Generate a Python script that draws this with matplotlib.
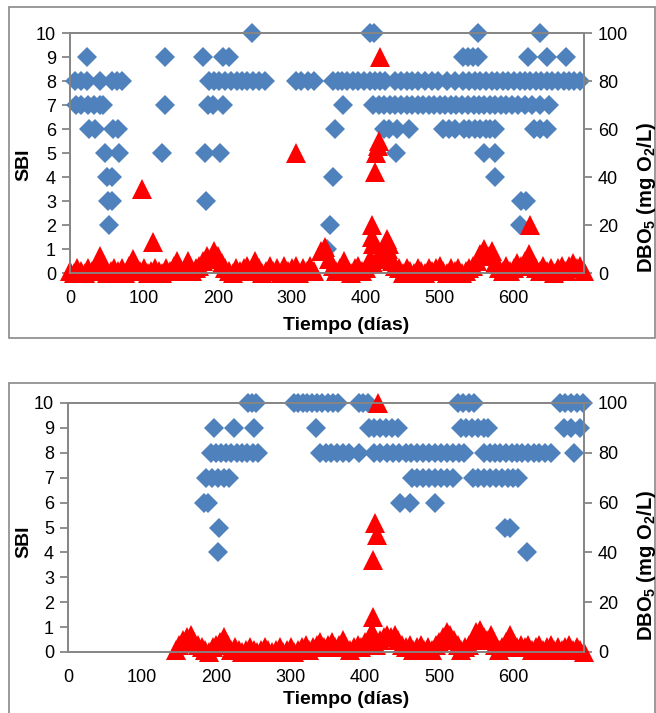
import matplotlib
matplotlib.use("Agg")
import matplotlib.pyplot as plt
from matplotlib.patches import Rectangle

plt.rcParams['font.family'] = ['Liberation Sans', 'DejaVu Sans']
plt.rcParams['mathtext.fontset'] = 'custom'
plt.rcParams['mathtext.rm'] = 'Liberation Sans'
plt.rcParams['mathtext.bf'] = 'Liberation Sans:bold'

BLUE = '#4f81bd'
RED = '#ff0000'
GRAY = '#868686'

# ---- upper chart: SBI (days per SBI value) ----
top_sbi10 = [246, 405, 411, 551, 635]
top_sbi9 = [23, 128, 180, 207, 215, 531, 538, 545, 551, 619, 645, 671]
top_sbi8 = [7, 15, 23, 40, 57, 63, 70, 188, 195, 202, 210, 218, 226, 233, 240, 248, 256, 263,
            306, 313, 322, 330, 355, 362, 368, 375, 382, 390, 397, 405, 412, 419, 426, 440,
            448, 455, 462, 470, 480, 490, 497, 510, 520, 532, 540, 548, 555, 562, 570, 577,
            585, 592, 600, 608, 615, 622, 630, 637, 645, 652, 660, 668, 675, 682, 690]
top_sbi7 = [8, 15, 24, 32, 40, 45, 129, 187, 194, 207, 369, 410, 418, 425, 433, 440, 447, 455,
            462, 470, 477, 485, 492, 500, 507, 515, 522, 530, 538, 546, 553, 560, 568, 575,
            583, 590, 598, 606, 615, 625, 635, 648]
top_sbi6 = [26, 34, 58, 65, 358, 425, 432, 442, 458, 505, 512, 520, 533, 540, 547, 555, 562,
            568, 575, 627, 635, 645]
top_sbi5 = [48, 66, 124, 182, 203, 441, 560, 574]
top_sbi4 = [50, 57, 355, 574]
top_sbi3 = [51, 57, 184, 610, 616]
top_sbi2 = [53, 351, 608]
top_sbi1 = [347]

# ---- upper chart: DBO5 ----
top_dbo_days = [0, 5, 10, 15, 20, 25, 30, 35, 40, 45, 50, 55, 60, 65, 70, 75, 80, 85, 90, 95,
                100, 105, 110, 115, 120, 125, 130, 135, 140, 145, 150, 155, 160, 165, 170, 175,
                180, 185, 190, 195, 200, 205, 210, 215, 220, 225, 230, 235, 240, 245, 250, 255,
                260, 265, 270, 275, 280, 285, 290, 295, 300, 305, 310, 315, 320, 325, 330,
                340, 345, 350, 355, 360, 365, 370, 375, 380, 385, 390, 395, 400, 405, 410, 415,
                420, 425, 430, 435, 440, 445, 450, 455, 460, 465, 470, 475, 480, 485, 490, 495,
                500, 505, 510, 515, 520, 525, 530, 535, 540, 545, 550, 555, 560, 565, 570, 575,
                580, 585, 590, 595, 600, 605, 610, 615, 620, 625, 630, 635, 640, 645, 650, 655,
                660, 665, 670, 675, 680, 685, 690, 695,
                97, 112, 306, 408, 408, 410, 412, 414, 416, 418, 419, 428, 432, 622]
top_dbo = [1, 0, 2, 1, 0, 2, 1, 3, 7, 2, 0, 1, 2, 1, 2, 0, 3, 6, 2, 1,
           2, 0, 1, 2, 1, 0, 2, 1, 3, 5, 1, 2, 5, 1, 2, 3,
           5, 7, 6, 9, 7, 4, 2, 1, 0, 2, 1, 2, 3, 1, 5, 2,
           0, 1, 3, 1, 2, 0, 3, 1, 2, 3, 0, 2, 1, 3, 1,
           9, 11, 6, 3, 1, 2, 5, 1, 0, 2, 3, 1, 2, 6, 4, 6,
           7, 9, 10, 5, 3, 2, 0, 2, 1, 0, 2, 1, 0, 2, 1, 2,
           3, 1, 0, 2, 1, 2, 0, 1, 2, 3, 5, 8, 10, 7, 9, 4,
           2, 1, 3, 1, 2, 4, 3, 5, 8, 4, 2, 1, 3, 1, 2, 0,
           2, 3, 1, 3, 4, 2, 3, 1,
           35, 13, 50, 20, 15, 12, 42, 50, 53, 55, 90, 14, 12, 20]

# ---- lower chart: SBI ----
bot_sbi10 = [242, 248, 253, 304, 310, 316, 322, 328, 335, 342, 350, 357, 364, 392, 398, 404,
             525, 532, 540, 547, 663, 670, 678, 686, 693]
bot_sbi9 = [197, 223, 250, 334, 405, 412, 420, 428, 436, 444, 529, 536, 544, 552, 560, 566,
            668, 677, 690]
bot_sbi8 = [192, 199, 206, 213, 220, 227, 234, 241, 249, 256, 340, 347, 354, 362, 370, 378,
            392, 412, 420, 430, 438, 446, 455, 462, 470, 478, 486, 494, 502, 510, 518, 526,
            533, 560, 568, 575, 582, 590, 598, 605, 612, 620, 628, 635, 642, 650, 682]
bot_sbi7 = [186, 194, 202, 210, 217, 463, 470, 478, 486, 494, 502, 510, 518, 545, 552, 560,
            568, 576, 584, 592, 600, 606]
bot_sbi6 = [183, 189, 447, 460, 494]
bot_sbi5 = [203, 588, 596]
bot_sbi4 = [202, 618]

# ---- lower chart: DBO5 ----
bot_dbo_days = [145, 150, 155, 160, 165, 170, 175, 180, 185, 190, 195, 200, 205, 210, 215, 220,
                225, 230, 235, 240, 245, 250, 255, 260, 265, 270, 275, 280, 285, 290, 295, 300,
                305, 310, 315, 320, 325, 330, 335, 340, 345, 350, 355, 360, 365, 370, 375, 380,
                385, 390, 395, 400, 405, 410, 415, 420, 425, 430, 435, 440, 445, 450, 455, 460,
                465, 470, 475, 480, 485, 490, 495, 500, 505, 510, 515, 520, 525, 530, 535, 540,
                545, 550, 555, 560, 565, 570, 575, 580, 585, 590, 595, 600, 605, 610, 615, 620,
                625, 630, 635, 640, 645, 650, 655, 660, 665, 670, 675, 680, 685, 690, 695,
                409, 411, 411, 414, 416, 417]
bot_dbo = [1, 3, 5, 6, 7, 4, 3, 2, 1, 0, 2, 3, 4, 6, 3, 1,
           2, 1, 0, 1, 2, 1, 0, 1, 2, 1, 0, 1, 2, 0, 1, 2,
           0, 1, 2, 3, 1, 2, 3, 4, 2, 3, 4, 2, 3, 5, 2, 1,
           2, 3, 2, 4, 5, 8, 3, 5, 6, 7, 6, 7, 5, 3, 2, 3,
           1, 2, 3, 1, 2, 1, 3, 4, 6, 8, 7, 5, 3, 1, 2, 3,
           5, 8, 9, 6, 5, 7, 3, 1, 2, 4, 7, 4, 2, 3, 2, 3,
           1, 2, 3, 1, 2, 3, 1, 2, 1, 2, 3, 1, 2, 1, 0,
           8, 14, 37, 52, 47, 100]

x_ticks = [0, 100, 200, 300, 400, 500, 600]
sbi_ticks = [0, 1, 2, 3, 4, 5, 6, 7, 8, 9, 10]
dbo_ticks = [0, 20, 40, 60, 80, 100]


def draw_panel(ax, sbi_rows, dbo_days, dbo_vals):
    for level, days in sbi_rows:
        ax.plot(days, [level] * len(days), 'D', color=BLUE, ms=10.5, mew=0, clip_on=False)
    ax.set_xlim(0, 695)
    ax.set_ylim(0, 10)
    ax.set_xticks(x_ticks)
    ax.set_yticks(sbi_ticks)
    ax.tick_params(axis='x', length=0, pad=12, labelsize=13)
    ax.tick_params(axis='y', direction='out', length=6, width=1.3, color=GRAY, pad=4, labelsize=13)
    for s in ax.spines.values():
        s.set_color(GRAY)
        s.set_linewidth(1.3)

    ax2 = ax.twinx()
    ax2.plot(dbo_days, dbo_vals, '^', color=RED, ms=15, mew=0, clip_on=False)
    ax2.set_ylim(0, 100)
    ax2.set_yticks(dbo_ticks)
    ax2.tick_params(axis='y', direction='out', length=6, width=1.3, color=GRAY, pad=4, labelsize=13)
    for s in ax2.spines.values():
        s.set_color(GRAY)
        s.set_linewidth(1.3)
    return ax2


fig = plt.figure(figsize=(6.56, 7.13), dpi=100)
W, H = 656.0, 713.0

ax_top = fig.add_axes([70 / W, 1 - 273 / H, 514 / W, 240 / H])
draw_panel(ax_top,
           [(10, top_sbi10), (9, top_sbi9), (8, top_sbi8), (7, top_sbi7), (6, top_sbi6),
            (5, top_sbi5), (4, top_sbi4), (3, top_sbi3), (2, top_sbi2), (1, top_sbi1)],
           top_dbo_days, top_dbo)

ax_bot = fig.add_axes([68 / W, 1 - 652 / H, 516 / W, 249 / H])
draw_panel(ax_bot,
           [(10, bot_sbi10), (9, bot_sbi9), (8, bot_sbi8), (7, bot_sbi7), (6, bot_sbi6),
            (5, bot_sbi5), (4, bot_sbi4)],
           bot_dbo_days, bot_dbo)

# frames around each chart
fig.patches.append(Rectangle((9 / W, 1 - 338 / H), 646 / W, 331 / H, transform=fig.transFigure,
                             fill=False, edgecolor='#898989', lw=1.2))
fig.patches.append(Rectangle((9 / W, -0.05), 646 / W, 1 - 383 / H + 0.05, transform=fig.transFigure,
                             fill=False, edgecolor='#898989', lw=1.2))

dbo_label = 'DBO$_\\mathbf{5}$ (mg O$_\\mathbf{2}$/L)'
for sbi_y, dbo_y, t_y in [(165, 197, 325), (542, 565, 699)]:
    fig.text(24 / W, 1 - sbi_y / H, 'SBI', rotation=90, ha='center', va='center',
             fontsize=14, fontweight='bold')
    fig.text(646 / W, 1 - dbo_y / H, dbo_label, rotation=90, ha='center', va='center',
             fontsize=14.5, fontweight='bold')
    fig.text(346 / W, 1 - t_y / H, 'Tiempo (días)', ha='center', va='center',
             fontsize=14, fontweight='bold')

fig.savefig('out.png', dpi=100)
